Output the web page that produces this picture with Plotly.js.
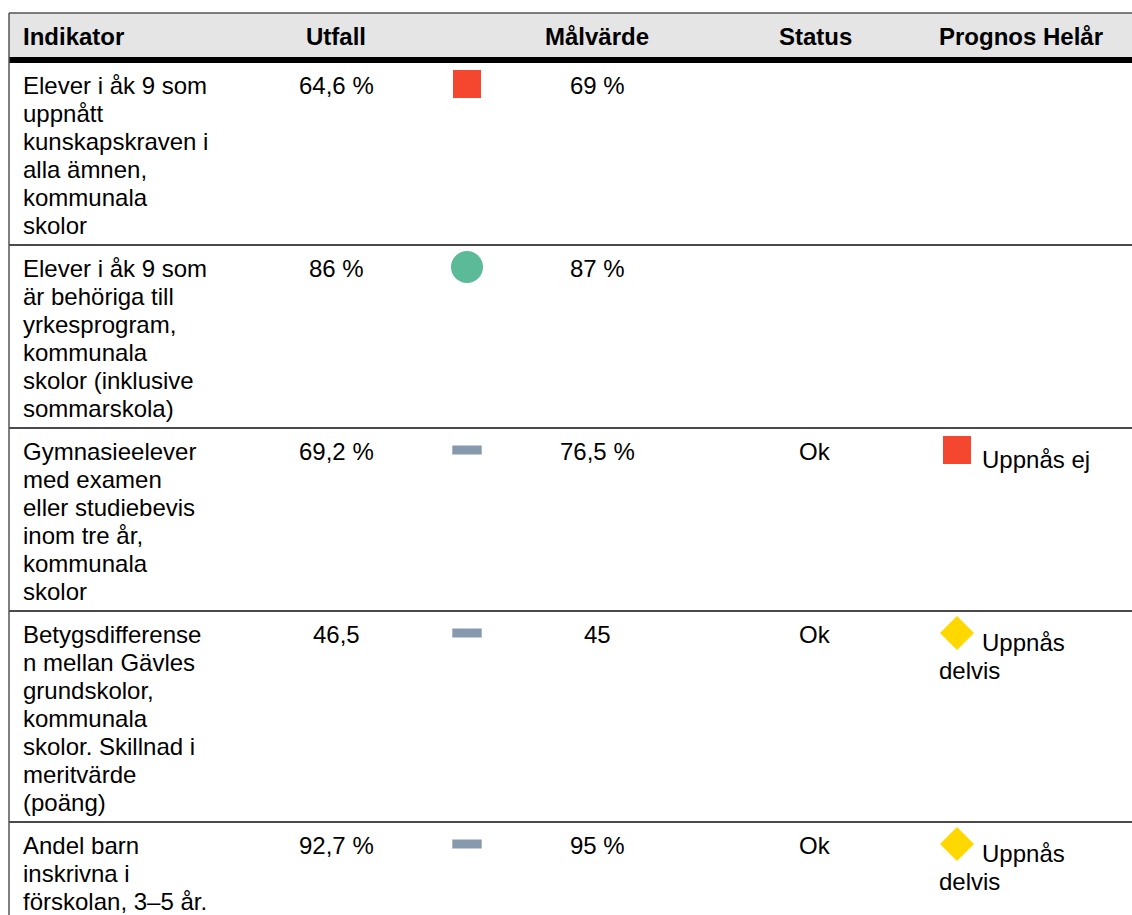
<!DOCTYPE html>
<html><head><meta charset="utf-8">
<script src="https://cdn.plot.ly/plotly-3.0.1.min.js"></script>
<style>html,body{margin:0;padding:0;background:#fff}</style>
</head><body><div id="chart" style="width:1132px;height:915px"></div>
<script>
// ---------- data ----------
const headers = ['Indikator', 'Utfall', '', 'Målvärde', 'Status', 'Prognos Helår'];
const indikator = [
  ['Elever i åk 9 som', 'uppnått', 'kunskapskraven i', 'alla ämnen,', 'kommunala', 'skolor'],
  ['Elever i åk 9 som', 'är behöriga till', 'yrkesprogram,', 'kommunala', 'skolor (inklusive', 'sommarskola)'],
  ['Gymnasieelever', 'med examen', 'eller studiebevis', 'inom tre år,', 'kommunala', 'skolor'],
  ['Betygsdifferense', 'n mellan Gävles', 'grundskolor,', 'kommunala', 'skolor. Skillnad i', 'meritvärde', '(poäng)'],
  ['Andel barn', 'inskrivna i', 'förskolan, 3–5 år.']
];
const utfall = ['64,6 %', '86 %', '69,2 %', '46,5', '92,7 %'];
const trendIcon = ['square', 'circle', 'dash', 'dash', 'dash'];
const malvarde = ['69 %', '87 %', '76,5 %', '45', '95 %'];
const status = ['', '', 'Ok', 'Ok', 'Ok'];
const prognosIcon = ['', '', 'square', 'diamond', 'diamond'];
const prognosText = [[], [], ['Uppnås ej'], ['Uppnås', 'delvis'], ['Uppnås', 'delvis']];

// ---------- styles / layout constants ----------
const W = 1132, H = 915;
const FONT = '"Liberation Sans", Arial, sans-serif';
const FS = 24;
const LINE_H = 28;
const tableLeft = 9, tableTop = 13, headerBottom = 57, thickH = 6;
const rowStart = headerBottom + thickH - 1;
const FIRST = 23, PAD = 15, ICON_OFF = 22, PROG_OFF = 31;
const col = {ind: 21, utf: 336, icon: 467, mal: 597, stat: 815, prog: 937, progText: 980};
const iconStyle = {
  square:  {symbol: 'square', size: 26, color: '#f5472f', line: 2},
  circle:  {symbol: 'circle', size: 32, color: '#5bba98', line: 0},
  dash:    {symbol: 'line-ew', size: 21, color: '#8799ad', line: 9},
  diamond: {symbol: 'diamond', size: 24, color: '#ffd800', line: 2}
};

// ---------- geometry from data ----------
const rowTops = [];
let y = rowStart;
indikator.forEach(lines => { rowTops.push(y); y += lines.length * LINE_H + PAD; });

const annotations = [];
function txt(x, yy, text, anchor, bold) {
  annotations.push({x: x, y: yy, xref: 'x', yref: 'y', text: bold ? '<b>' + text + '</b>' : text,
    showarrow: false, xanchor: anchor, yanchor: 'middle',
    font: {family: FONT, size: FS, color: '#000'}});
}
// header
const headerY = (tableTop + headerBottom) / 2 + 1;
const headerX = [[col.ind, 'left'], [col.utf, 'center'], [col.icon, 'center'], [col.mal, 'center'], [col.stat, 'center'], [col.prog, 'left']];
headers.forEach((h, i) => { if (h) txt(headerX[i][0], headerY, h, headerX[i][1], true); });

// body
const iconX = [], iconY = [], iconS = [], iconC = [], iconSz = [], iconLW = [], iconLC = [];
function addIcon(x, yy, kind) {
  const s = iconStyle[kind];
  iconX.push(x); iconY.push(yy); iconS.push(s.symbol); iconC.push(s.color);
  iconSz.push(s.size); iconLW.push(s.line); iconLC.push(s.color);
}
indikator.forEach((lines, r) => {
  const top = rowTops[r];
  lines.forEach((ln, k) => txt(col.ind, top + FIRST + k * LINE_H, ln, 'left'));
  txt(col.utf, top + FIRST, utfall[r], 'center');
  txt(col.mal, top + FIRST, malvarde[r], 'center');
  if (status[r]) txt(col.stat, top + FIRST, status[r], 'center');
  if (trendIcon[r]) addIcon(col.icon, top + ICON_OFF, trendIcon[r]);
  if (prognosIcon[r]) addIcon(col.prog + 20, top + ICON_OFF, prognosIcon[r]);
  prognosText[r].forEach((ln, k) => txt(k === 0 ? col.progText : col.prog, top + PROG_OFF + k * LINE_H, ln, 'left'));
});

// borders
const shapes = [];
shapes.push({type: 'rect', xref: 'x', yref: 'y', x0: tableLeft, x1: W + 10, y0: tableTop, y1: headerBottom,
  fillcolor: '#e5e5e5', line: {width: 0}, layer: 'below'});
shapes.push({type: 'line', xref: 'x', yref: 'y', x0: tableLeft, x1: W + 10, y0: tableTop, y1: tableTop,
  line: {color: '#555', width: 1.5}});
shapes.push({type: 'rect', xref: 'x', yref: 'y', x0: tableLeft, x1: W + 10, y0: headerBottom, y1: headerBottom + thickH,
  fillcolor: '#000', line: {width: 0}});
rowTops.slice(1).forEach(t => shapes.push({type: 'line', xref: 'x', yref: 'y', x0: tableLeft, x1: W + 10, y0: t, y1: t,
  line: {color: '#4a4a4a', width: 2}}));
shapes.push({type: 'line', xref: 'x', yref: 'y', x0: tableLeft, x1: tableLeft, y0: tableTop, y1: H + 10,
  line: {color: '#555', width: 1.5}});

const trace = {
  type: 'scatter', mode: 'markers', x: iconX, y: iconY, hoverinfo: 'skip', showlegend: false,
  marker: {symbol: iconS, color: iconC, size: iconSz, opacity: 1, line: {width: iconLW, color: iconLC}}
};

const layout = {
  width: W, height: H, margin: {l: 0, r: 0, t: 0, b: 0},
  paper_bgcolor: '#fff', plot_bgcolor: '#fff',
  xaxis: {range: [0, W], visible: false, fixedrange: true},
  yaxis: {range: [H, 0], visible: false, fixedrange: true},
  shapes: shapes, annotations: annotations, showlegend: false
};
Plotly.newPlot('chart', [trace], layout, {displayModeBar: false, staticPlot: true});
</script></body></html>
